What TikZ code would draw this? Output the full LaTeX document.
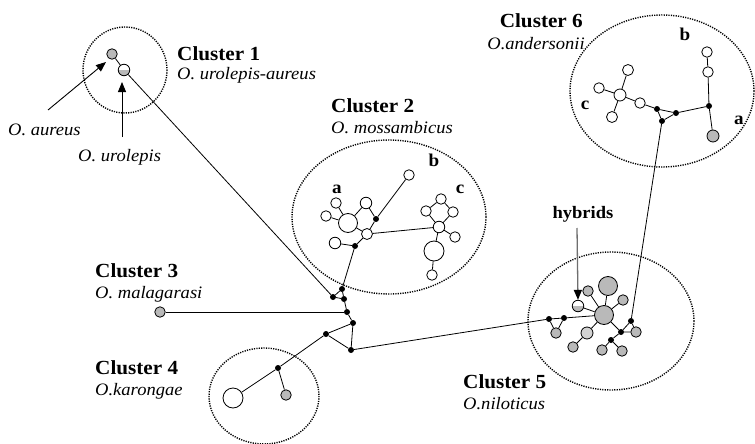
\documentclass[tikz,border=0pt]{standalone}
\usepackage{fontspec}
\setmainfont{Liberation Serif}[FakeStretch=1.06]
\usetikzlibrary{arrows.meta}
\definecolor{gfill}{HTML}{B9B9B9}
\definecolor{lfill}{HTML}{D2D2D2}
\definecolor{arrgray}{HTML}{6E6E6E}
\tikzset{
  base/.style={circle,draw=black,line width=0.8pt,inner sep=0pt},
  wn/.style={base,fill=white,minimum size=10.5pt},
  gn/.style={base,fill=gfill,minimum size=10.5pt},
  ln/.style={base,fill=lfill,minimum size=11pt},
  hn/.style={base,fill=white,minimum size=11.5pt,
    path picture={\fill[gfill] (path picture bounding box.south west) rectangle (path picture bounding box.east);}},
  bn/.style={circle,fill=black,inner sep=0pt,minimum size=6pt},
  big/.style={minimum size=19pt},
  edge/.style={line width=0.8pt},
  cl/.style={draw=black,line width=1.4pt,dash pattern=on 1.2pt off 1.2pt},
  ttl/.style={font=\fontsize{20}{22}\selectfont\bfseries,inner sep=0pt,anchor=base west},
  sp/.style={font=\fontsize{17.5}{20}\selectfont\itshape,inner sep=0pt,anchor=base west},
  lett/.style={font=\fontsize{18}{20}\selectfont\bfseries,inner sep=0pt,anchor=base},
  pt/.style={-{Triangle[length=10pt,width=8pt]},line width=0.9pt},
}
\begin{document}
\begin{tikzpicture}[x=1pt,y=-1pt]
\useasboundingbox (0,0) rectangle (755,444);
% cluster outlines
\draw[cl] (125,70) ellipse [x radius=42, y radius=43];
\draw[cl] (389,217) ellipse [x radius=97, y radius=77];
\draw[cl] (264,396) ellipse [x radius=55, y radius=48];
\draw[cl] (611,321) ellipse [x radius=83, y radius=69];
\draw[cl] (662,91) ellipse [x radius=92, y radius=76];

% labels
\node[ttl] (t1) at (177,60) {Cluster 1};
\node[sp] (s1) at (177,80) {O. urolepis-aureus};
\node[ttl] (t2) at (331,112) {Cluster 2};
\node[sp] (s2) at (331,133) {O. mossambicus};
\node[ttl] (t3) at (95,277) {Cluster 3};
\node[sp] (s3) at (95,298) {O. malagarasi};
\node[ttl] (t4) at (95,374) {Cluster 4};
\node[sp] (s4) at (95,395) {O.karongae};
\node[ttl] (t5) at (463,388) {Cluster 5};
\node[sp] (s5) at (463,409) {O.niloticus};
\node[ttl,anchor=base east] (t6) at (583,28) {Cluster 6};
\node[sp,anchor=base east] (s6) at (585,49) {O.andersonii};
\node[lett,font=\fontsize{17.5}{20}\selectfont\bfseries] (hy) at (583,218) {hybrids};
\node[sp] (lau) at (8,135) {O. aureus};
\node[sp] (lur) at (78,161) {O. urolepis};
\node[lett] (l2a) at (337,193) {a};
\node[lett] (l2b) at (434,166) {b};
\node[lett] (l2c) at (460,193) {c};
\node[lett] (l6b) at (685,41) {b};
\node[lett] (l6c) at (585,110) {c};
\node[lett] (l6a) at (739,124) {a};

% central junctions
\node[bn] (J1) at (342,289) {};
\node[bn] (J2) at (333,297) {};
\node[bn] (J3) at (344,299) {};
\node[bn] (J4) at (347,312) {};
\node[bn] (J5) at (353,323) {};
\node[bn] (J6) at (326,334) {};
\node[bn] (J7) at (351,350) {};
\draw[edge] (J2) -- (J1) -- (J3) -- (J2);
\draw[edge] (J3) -- (J4) -- (J5) -- (J6) -- (J7) -- (J5);

% cluster 1
\node[gn] (au) at (112,54) {};
\node[hn] (ur) at (124,70) {};
\draw[edge] (au) -- (ur);
\draw[edge] (ur) -- (J2);
\coordinate (aus) at (48,110);
\coordinate (aut) at (106,62);
\draw[pt] (aus) -- (aut);
\coordinate (urs) at (122,137);
\coordinate (urt) at (122,82);
\draw[pt] (urs) -- (urt);

% cluster 3
\node[gn] (ma) at (160,312) {};
\draw[edge] (ma) -- (J4);

% cluster 4
\node[bn] (k4) at (278,368) {};
\node[wn,minimum size=20pt] (k4w) at (233,398) {};
\node[gn] (k4g) at (286,395) {};
\draw[edge] (J6) -- (k4) -- (k4w);
\draw[edge] (k4) -- (k4g);

% cluster 2
\node[wn,big] (A) at (348,223) {};
\node[wn] (a1) at (336,203) {};
\node[wn] (a2) at (326,216) {};
\node[wn,minimum size=11.5pt] (a3) at (335,243) {};
\node[wn,minimum size=11.5pt] (a4) at (366,203) {};
\node[wn,minimum size=11pt] (a5) at (367,234) {};
\node[bn] (ab1) at (376,219) {};
\node[bn] (ab2) at (355,246) {};
\node[wn] (btop) at (409,175) {};
\draw[edge] (A) -- (a1);
\draw[edge] (A) -- (a2);
\draw[edge] (A) -- (a4);
\draw[edge] (A) -- (a5);
\draw[edge] (a4) -- (ab1) -- (a5);
\draw[edge] (ab1) -- (btop);
\draw[edge] (a3) -- (ab2) -- (a5);
\draw[edge] (ab2) -- (J1);
\node[wn,minimum size=11.5pt] (C) at (439,227) {};
\node[wn] (c1) at (426,211) {};
\node[wn] (c2) at (441,199) {};
\node[wn] (c3) at (453,212) {};
\node[wn] (c4) at (455,237) {};
\node[wn,minimum size=20pt] (cb) at (434,251) {};
\node[wn] (c5) at (432,275) {};
\draw[edge] (a5) -- (C);
\draw[edge] (C) -- (c1) -- (c2) -- (c3) -- (C);
\draw[edge] (C) -- (c4);
\draw[edge] (C) -- (cb) -- (c5);

% cluster 5
\node[gn,big] (N) at (604,315) {};
\node[gn,big] (Nt) at (608,286) {};
\node[gn] (n1) at (588,291) {};
\node[gn] (n2) at (623,300) {};
\node[hn] (hyb) at (578,306) {};
\node[ln,minimum size=12pt] (nl) at (587,333) {};
\node[gn] (n3) at (573,347) {};
\node[bn] (nb1) at (549,319) {};
\node[bn] (nb2) at (564,318) {};
\node[gn] (n4) at (556,333) {};
\node[bn] (nb3) at (631,321) {};
\node[bn] (nb4) at (621,332) {};
\node[gn] (n5) at (636,332) {};
\node[bn] (nb5) at (611,340) {};
\node[gn] (n6) at (602,350) {};
\node[gn] (n7) at (622,351) {};
\draw[edge] (J7) -- (nb1) -- (nb2) -- (N);
\draw[edge] (nb1) -- (n4) -- (nb2);
\draw[edge] (N) -- (Nt);
\draw[edge] (N) -- (n1);
\draw[edge] (N) -- (n2);
\draw[edge] (N) -- (hyb);
\draw[edge] (N) -- (nl) -- (n3);
\draw[edge] (N) -- (nb4) -- (nb3) -- (n5) -- (nb4);
\draw[edge] (nb4) -- (nb5) -- (n6);
\draw[edge] (nb5) -- (n7);
\coordinate (hys) at (577,228);
\draw[-{Triangle[length=10pt,width=8pt,color=black]},line width=1.3pt,draw=arrgray] (hys) -- (hyb.north);

% cluster 6
\node[bn] (K1) at (662,121) {};
\node[bn] (K2) at (657,109) {};
\node[bn] (K3) at (676,113) {};
\node[bn] (K4) at (709,106) {};
\node[wn] (m1) at (708,72) {};
\node[wn] (m2) at (707,52) {};
\node[gn,minimum size=12pt] (m3) at (713,136) {};
\node[wn] (m4) at (640,103) {};
\node[wn,minimum size=12pt] (M) at (620,95) {};
\node[wn,minimum size=11pt] (m5) at (628,70) {};
\node[wn] (m6) at (599,88) {};
\node[wn,minimum size=11pt] (m7) at (612,117) {};
\draw[edge] (nb3) -- (K1);
\draw[edge] (K1) -- (K2) -- (K3) -- (K1);
\draw[edge] (K3) -- (K4) -- (m1) -- (m2);
\draw[edge] (K4) -- (m3);
\draw[edge] (K2) -- (m4) -- (M);
\draw[edge] (M) -- (m5);
\draw[edge] (M) -- (m6);
\draw[edge] (M) -- (m7);
\end{tikzpicture}
\end{document}
